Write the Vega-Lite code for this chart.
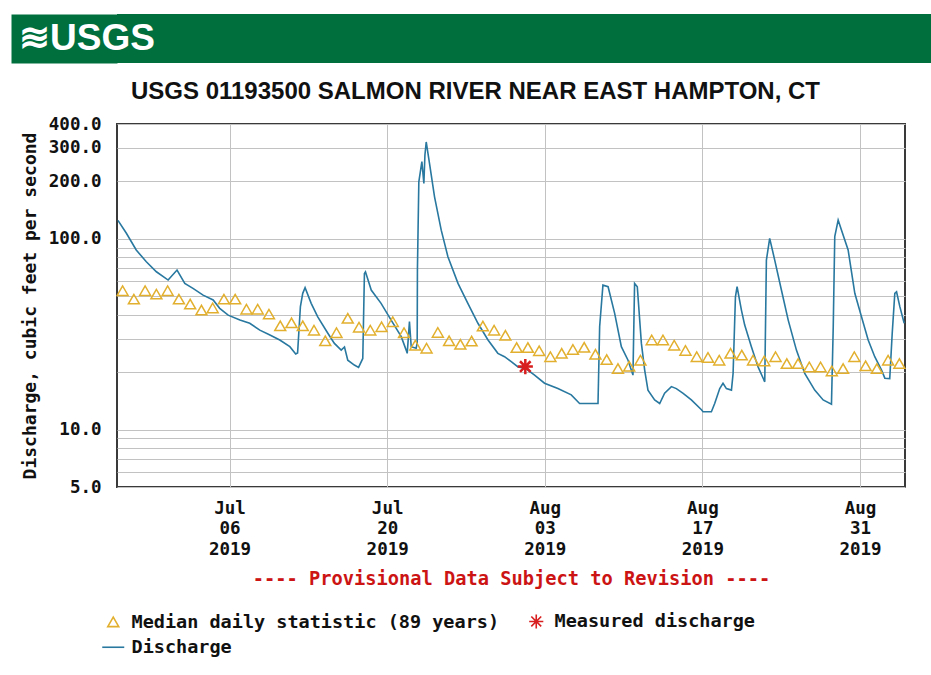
{
  "$schema": "https://vega.github.io/schema/vega-lite/v6.json",
  "padding": {"left": 18, "top": 13, "right": 0, "bottom": 0},
  "spacing": 9,
  "columns": 1,
  "align": "none",
  "resolve": {"scale": {"color": "independent", "shape": "independent"}, "legend": {"color": "independent", "shape": "independent"}},
  "datasets": {
    "discharge": [
      {"t":"2019-06-26T02:00","q":125},{"t":"2019-06-26T20:00","q":107},{"t":"2019-06-27T17:00","q":87.4},{"t":"2019-06-28T14:30","q":75.8},{"t":"2019-06-29T12:00","q":67.2},{"t":"2019-06-30T13:00","q":60.8},{"t":"2019-07-01T08:00","q":68.6},{"t":"2019-07-02T00:30","q":58.4},{"t":"2019-07-02T18:00","q":55.0},{"t":"2019-07-03T15:30","q":50.7},{"t":"2019-07-04T13:00","q":47.8},{"t":"2019-07-05T03:00","q":43.2},{"t":"2019-07-05T21:00","q":39.8},{"t":"2019-07-06T22:00","q":37.5},{"t":"2019-07-07T19:00","q":36.1},{"t":"2019-07-08T16:30","q":33.2},{"t":"2019-07-09T14:00","q":31.3},{"t":"2019-07-10T11:00","q":29.5},{"t":"2019-07-11T08:30","q":27.2},{"t":"2019-07-11T21:00","q":24.9},{"t":"2019-07-12T01:00","q":25.2},{"t":"2019-07-12T07:00","q":44.1},{"t":"2019-07-12T12:00","q":51.8},{"t":"2019-07-12T17:00","q":55.5},{"t":"2019-07-13T06:00","q":45.9},{"t":"2019-07-13T20:00","q":39.0},{"t":"2019-07-14T17:30","q":32.0},{"t":"2019-07-15T07:30","q":28.3},{"t":"2019-07-15T22:00","q":26.1},{"t":"2019-07-16T05:00","q":27.1},{"t":"2019-07-16T12:00","q":23.1},{"t":"2019-07-17T02:00","q":21.8},{"t":"2019-07-17T11:00","q":21.2},{"t":"2019-07-17T20:00","q":23.6},{"t":"2019-07-17T23:30","q":65.9},{"t":"2019-07-18T01:45","q":67.2},{"t":"2019-07-18T14:00","q":53.9},{"t":"2019-07-19T11:00","q":45.9},{"t":"2019-07-20T08:30","q":37.5},{"t":"2019-07-21T06:00","q":30.7},{"t":"2019-07-21T16:30","q":26.1},{"t":"2019-07-21T18:45","q":25.1},{"t":"2019-07-21T23:30","q":36.8},{"t":"2019-07-22T03:15","q":27.2},{"t":"2019-07-22T13:45","q":26.7},{"t":"2019-07-22T16:00","q":28.4},{"t":"2019-07-22T16:30","q":68.6},{"t":"2019-07-22T19:30","q":199},{"t":"2019-07-23T02:00","q":254},{"t":"2019-07-23T06:15","q":195},{"t":"2019-07-23T08:30","q":275},{"t":"2019-07-23T11:15","q":322},{"t":"2019-07-23T18:15","q":249},{"t":"2019-07-24T05:00","q":166},{"t":"2019-07-24T19:15","q":111},{"t":"2019-07-25T09:30","q":80.6},{"t":"2019-07-26T07:00","q":58.4},{"t":"2019-07-27T04:00","q":45.9},{"t":"2019-07-28T01:30","q":36.1},{"t":"2019-07-28T23:00","q":29.5},{"t":"2019-07-29T20:00","q":25.1},{"t":"2019-07-30T10:15","q":24.1},{"t":"2019-07-31T00:30","q":22.7},{"t":"2019-07-31T15:00","q":21.3},{"t":"2019-08-01T06:00","q":21.0},{"t":"2019-08-02T02:15","q":19.3},{"t":"2019-08-02T23:30","q":17.5},{"t":"2019-08-04T04:00","q":16.4},{"t":"2019-08-05T08:30","q":15.2},{"t":"2019-08-06T02:15","q":13.7},{"t":"2019-08-07T17:30","q":13.7},{"t":"2019-08-07T21:00","q":34.6},{"t":"2019-08-08T04:00","q":57.2},{"t":"2019-08-08T15:00","q":56.1},{"t":"2019-08-09T05:00","q":40.7},{"t":"2019-08-09T19:15","q":27.2},{"t":"2019-08-10T09:30","q":23.1},{"t":"2019-08-10T20:00","q":19.3},{"t":"2019-08-10T23:30","q":58.4},{"t":"2019-08-11T05:15","q":56.1},{"t":"2019-08-11T14:00","q":28.3},{"t":"2019-08-11T21:00","q":20.5},{"t":"2019-08-12T04:00","q":16.1},{"t":"2019-08-12T18:15","q":14.3},{"t":"2019-08-13T05:00","q":13.7},{"t":"2019-08-13T15:30","q":15.5},{"t":"2019-08-14T06:00","q":16.8},{"t":"2019-08-14T16:30","q":16.4},{"t":"2019-08-15T07:00","q":15.5},{"t":"2019-08-16T00:30","q":14.3},{"t":"2019-08-16T22:00","q":12.7},{"t":"2019-08-17T01:30","q":12.4},{"t":"2019-08-17T19:15","q":12.4},{"t":"2019-08-18T02:15","q":13.7},{"t":"2019-08-18T13:00","q":16.4},{"t":"2019-08-18T20:00","q":17.5},{"t":"2019-08-19T03:15","q":16.4},{"t":"2019-08-19T14:00","q":16.1},{"t":"2019-08-19T17:30","q":19.7},{"t":"2019-08-19T22:30","q":49.7},{"t":"2019-08-20T02:00","q":56.1},{"t":"2019-08-20T11:15","q":42.3},{"t":"2019-08-20T18:15","q":35.3},{"t":"2019-08-21T08:30","q":27.2},{"t":"2019-08-21T22:45","q":21.3},{"t":"2019-08-22T13:00","q":17.8},{"t":"2019-08-22T16:30","q":77.4},{"t":"2019-08-22T23:30","q":100.6},{"t":"2019-08-23T10:15","q":77.4},{"t":"2019-08-24T00:30","q":53.9},{"t":"2019-08-24T15:00","q":37.5},{"t":"2019-08-25T08:30","q":26.1},{"t":"2019-08-26T02:15","q":19.7},{"t":"2019-08-26T23:30","q":16.1},{"t":"2019-08-27T17:30","q":14.3},{"t":"2019-08-28T11:15","q":13.6},{"t":"2019-08-28T15:00","q":34.6},{"t":"2019-08-28T18:15","q":102.6},{"t":"2019-08-29T01:30","q":125.5},{"t":"2019-08-29T08:30","q":111.2},{"t":"2019-08-29T22:45","q":87.4},{"t":"2019-08-30T13:00","q":51.8},{"t":"2019-08-31T03:15","q":39.0},{"t":"2019-08-31T17:30","q":29.5},{"t":"2019-09-01T07:30","q":24.1},{"t":"2019-09-01T22:00","q":20.5},{"t":"2019-09-02T05:00","q":18.6},{"t":"2019-09-02T15:30","q":18.5},{"t":"2019-09-02T20:45","q":32.0},{"t":"2019-09-03T02:15","q":51.8},{"t":"2019-09-03T06:00","q":52.8},{"t":"2019-09-03T13:00","q":44.1},{"t":"2019-09-03T22:15","q":36.1}
    ],
    "median": [
      {"t":"2019-06-26T12:00","q":53.5},{"t":"2019-06-27T12:00","q":48.3},{"t":"2019-06-28T12:00","q":53.5},{"t":"2019-06-29T12:00","q":51.3},{"t":"2019-06-30T12:00","q":53.5},{"t":"2019-07-01T12:00","q":48.3},{"t":"2019-07-02T12:00","q":45.5},{"t":"2019-07-03T12:00","q":42.3},{"t":"2019-07-04T12:00","q":43.4},{"t":"2019-07-05T12:00","q":48.3},{"t":"2019-07-06T12:00","q":48.3},{"t":"2019-07-07T12:00","q":42.8},{"t":"2019-07-08T12:00","q":42.8},{"t":"2019-07-09T12:00","q":40.3},{"t":"2019-07-10T12:00","q":35.0},{"t":"2019-07-11T12:00","q":36.3},{"t":"2019-07-12T12:00","q":35.0},{"t":"2019-07-13T12:00","q":33.2},{"t":"2019-07-14T12:00","q":29.2},{"t":"2019-07-15T12:00","q":32.2},{"t":"2019-07-16T12:00","q":38.3},{"t":"2019-07-17T12:00","q":34.4},{"t":"2019-07-18T12:00","q":33.2},{"t":"2019-07-19T12:00","q":34.6},{"t":"2019-07-20T12:00","q":36.8},{"t":"2019-07-21T12:00","q":32.2},{"t":"2019-07-22T12:00","q":27.7},{"t":"2019-07-23T12:00","q":26.7},{"t":"2019-07-24T12:00","q":32.3},{"t":"2019-07-25T12:00","q":29.2},{"t":"2019-07-26T12:00","q":28.0},{"t":"2019-07-27T12:00","q":29.1},{"t":"2019-07-28T12:00","q":34.9},{"t":"2019-07-29T12:00","q":33.2},{"t":"2019-07-30T12:00","q":31.2},{"t":"2019-07-31T12:00","q":26.9},{"t":"2019-08-01T12:00","q":26.9},{"t":"2019-08-02T12:00","q":25.9},{"t":"2019-08-03T12:00","q":24.1},{"t":"2019-08-04T12:00","q":25.1},{"t":"2019-08-05T12:00","q":26.3},{"t":"2019-08-06T12:00","q":27.0},{"t":"2019-08-07T12:00","q":24.8},{"t":"2019-08-08T12:00","q":23.3},{"t":"2019-08-09T12:00","q":20.9},{"t":"2019-08-10T12:00","q":21.5},{"t":"2019-08-11T12:00","q":23.1},{"t":"2019-08-12T12:00","q":29.5},{"t":"2019-08-13T12:00","q":29.5},{"t":"2019-08-14T12:00","q":27.7},{"t":"2019-08-15T12:00","q":26.0},{"t":"2019-08-16T12:00","q":24.1},{"t":"2019-08-17T12:00","q":23.9},{"t":"2019-08-18T12:00","q":23.1},{"t":"2019-08-19T12:00","q":25.1},{"t":"2019-08-20T12:00","q":24.6},{"t":"2019-08-21T12:00","q":23.1},{"t":"2019-08-22T12:00","q":22.9},{"t":"2019-08-23T12:00","q":24.1},{"t":"2019-08-24T12:00","q":22.2},{"t":"2019-08-25T12:00","q":22.2},{"t":"2019-08-26T12:00","q":21.3},{"t":"2019-08-27T12:00","q":21.3},{"t":"2019-08-28T12:00","q":20.3},{"t":"2019-08-29T12:00","q":20.9},{"t":"2019-08-30T12:00","q":24.1},{"t":"2019-08-31T12:00","q":21.6},{"t":"2019-09-01T12:00","q":20.9},{"t":"2019-09-02T12:00","q":23.1},{"t":"2019-09-03T12:00","q":22.2}
    ],
    "measured": [{"t":"2019-08-01T06:30","q":21.4}],
    "header": [{"label": "≋USGS"}]
  },
  "concat": [
    {
      "width": 815,
      "height": 49,
      "view": {"fill": "#006F3E", "stroke": "transparent"},
      "title": {"text": "USGS 01193500 SALMON RIVER NEAR EAST HAMPTON, CT", "orient": "bottom", "anchor": "middle", "frame": "group", "offset": 17, "baseline": "top", "font": "Liberation Sans", "fontSize": 24, "fontWeight": "bold", "color": "#111111", "dx": -49},
      "data": {"name": "header"},
      "mark": {"type": "text", "align": "left", "baseline": "middle", "font": "Liberation Sans", "fontWeight": "bold", "fontSize": 37, "color": "#FFFFFF", "dx": -98},
      "encoding": {
        "text": {"field": "label"},
        "x": {"datum": 0, "type": "quantitative", "scale": {"domain": [0, 1]}, "axis": null},
        "y": {"datum": 0.5, "type": "quantitative", "scale": {"domain": [0, 1]},
          "axis": {"orient": "left", "domain": true, "domainColor": "#006F3E", "domainWidth": 106, "domainCap": "butt", "offset": 53, "labels": false, "ticks": false, "grid": false, "title": null}}
      }
    },
    {
      "width": 788,
      "height": 363,
      "encoding": {
        "x": {
          "field": "t", "type": "temporal",
          "scale": {"domain": [{"year": 2019, "month": 6, "date": 26}, {"year": 2019, "month": 9, "date": 4}], "nice": false},
          "axis": {
            "values": [{"year": 2019, "month": 7, "date": 6}, {"year": 2019, "month": 7, "date": 20}, {"year": 2019, "month": 8, "date": 3}, {"year": 2019, "month": 8, "date": 17}, {"year": 2019, "month": 8, "date": 31}],
            "labelExpr": "[timeFormat(datum.value, '%b'), timeFormat(datum.value, '%d'), timeFormat(datum.value, '%Y')]",
            "labelLineHeight": 20.5, "labelBaseline": "top", "labelAlign": "center", "labelPadding": 12, "labelFontSize": 17.5,
            "title": "---- Provisional Data Subject to Revision ----", "titleColor": "#CC1414", "titleFontSize": 18.7, "titlePadding": 12,
            "grid": true, "labelOverlap": false
          }
        },
        "y": {
          "field": "q", "type": "quantitative",
          "scale": {"type": "log", "domain": [5, 400], "nice": false},
          "axis": {
            "values": [5, 6, 7, 8, 9, 10, 20, 30, 40, 50, 60, 70, 80, 90, 100, 200, 300, 400],
            "labelExpr": "indexof([5, 10, 100, 200, 300, 400], datum.value) >= 0 ? format(datum.value, '.1f') : ''",
            "labelFontSize": 17.5, "labelPadding": 16, "labelOverlap": false, "labelBaseline": "middle",
            "title": "Discharge, cubic feet per second", "titleFontSize": 18, "titlePadding": 9,
            "grid": true
          }
        }
      },
      "layer": [
        {
          "data": {"name": "discharge"},
          "mark": {"type": "line", "strokeWidth": 1.6, "interpolate": "linear"},
          "encoding": {
            "color": {"datum": "Discharge", "type": "nominal", "title": null,
              "scale": {"domain": ["Median daily statistic (89 years)", "Measured discharge", "Discharge"], "range": ["#E2B02E", "#D81E1E", "#2878A0"]},
              "legend": {"orient": "none", "legendX": -13, "legendY": 488, "title": null, "direction": "horizontal", "columns": 2, "columnPadding": 25, "rowPadding": 6, "symbolSize": 484, "labelOffset": 9, "labelLimit": 0, "labelFont": "DejaVu Sans Mono", "labelFontWeight": "bold", "labelFontSize": 18.5, "labelColor": "#111111", "symbolStrokeWidth": 1.6,
                "encode": {"symbols": {"update": {"size": {"signal": "datum.value === 'Discharge' ? 484 : datum.value === 'Measured discharge' ? 200 : 120"}, "fill": {"value": "transparent"}}}}}
            }
          }
        },
        {
          "data": {"name": "median"},
          "mark": {"type": "point", "filled": false, "size": 120, "strokeWidth": 1.5, "opacity": 1},
          "encoding": {
            "color": {"datum": "Median daily statistic (89 years)", "type": "nominal", "title": null},
            "shape": {"datum": "Median daily statistic (89 years)", "type": "nominal", "title": null,
              "scale": {"domain": ["Median daily statistic (89 years)", "Measured discharge", "Discharge"], "range": ["triangle-up", "M0,-1L0,1M-1,0L1,0M-0.7,-0.7L0.7,0.7M-0.7,0.7L0.7,-0.7", "stroke"]},
              "legend": {"orient": "none", "legendX": -13, "legendY": 488, "title": null, "direction": "horizontal", "columns": 2, "columnPadding": 25, "rowPadding": 6, "symbolSize": 484, "labelOffset": 9, "labelLimit": 0, "labelFont": "DejaVu Sans Mono", "labelFontWeight": "bold", "labelFontSize": 18.5, "labelColor": "#111111", "symbolStrokeWidth": 1.6,
                "encode": {"symbols": {"update": {"size": {"signal": "datum.value === 'Discharge' ? 484 : datum.value === 'Measured discharge' ? 200 : 120"}, "fill": {"value": "transparent"}}}}}
            }
          }
        },
        {
          "data": {"name": "measured"},
          "mark": {"type": "point", "filled": false, "size": 230, "strokeWidth": 2.5, "opacity": 1},
          "encoding": {
            "color": {"datum": "Measured discharge", "type": "nominal", "title": null},
            "shape": {"datum": "Measured discharge", "type": "nominal", "title": null}
          }
        }
      ]
    }
  ],
  "config": {
    "view": {"stroke": "#3a3a3a", "strokeWidth": 2},
    "axis": {"domain": false, "ticks": false, "tickSize": 0, "gridColor": "#c2c2c2", "gridWidth": 1, "labelFont": "DejaVu Sans Mono", "labelFontWeight": "bold", "labelColor": "#111111", "titleFont": "DejaVu Sans Mono", "titleFontWeight": "bold", "titleColor": "#111111"}
  }
}
